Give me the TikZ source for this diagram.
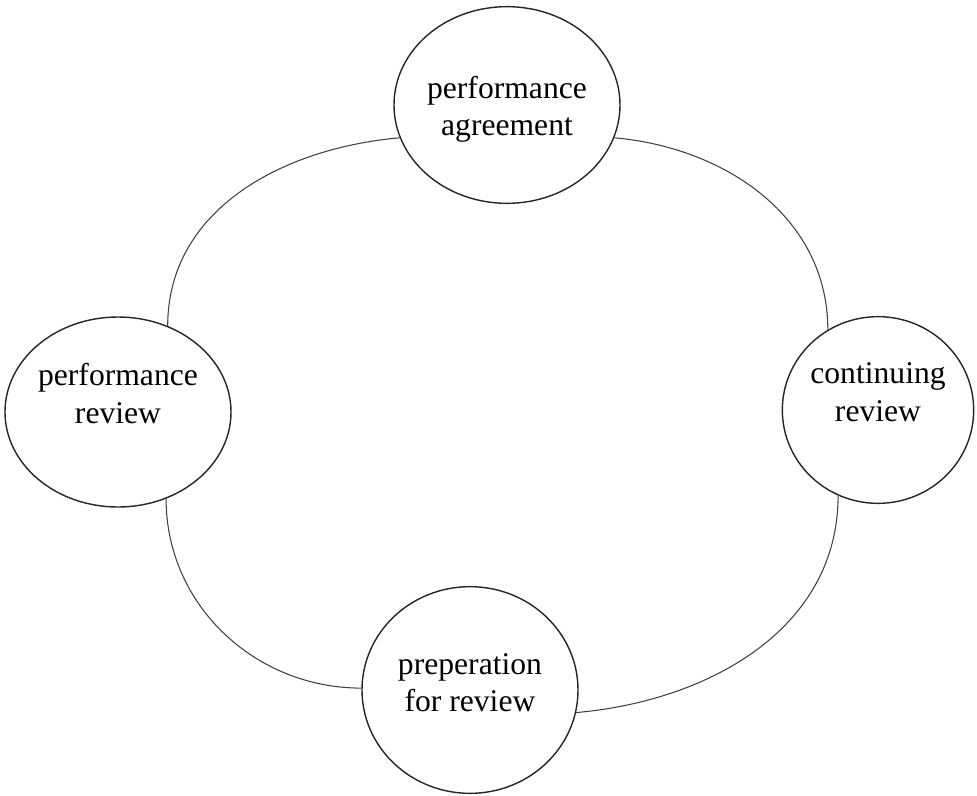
\documentclass[tikz,border=0pt]{standalone}
\usepackage{fontspec}
\setmainfont{Liberation Serif}
\usetikzlibrary{shapes.geometric}

% two centred lines, lifted a little inside the ellipse
\newcommand{\stagetext}[2]{\raisebox{#1}[\height][\depth]{\begin{tabular}{@{}c@{}}#2\end{tabular}}}

\begin{document}
\begin{tikzpicture}[
  x=0.3mm, y=-0.3mm,
  stage/.style={draw=black!85, line width=1.2pt, ellipse, inner sep=0pt,
                minimum width=64.8mm, minimum height=59mm, align=center,
                font=\fontsize{27}{32}\selectfont},
  link/.style={draw=black!75, line width=0.9pt}
]
  \useasboundingbox (0,0) rectangle (977,795);

  \node[stage] (agreement) at (507,105) {\stagetext{-4pt}{performance\\agreement}};
  \node[stage, minimum width=54mm, minimum height=56mm] (continuing) at (878,410) {\stagetext{13pt}{continuing\\review}};
  \node[stage, minimum height=62mm] (preparation) at (470,690) {\stagetext{4pt}{preperation\\for review}};
  \node[stage, minimum height=57mm] (perfreview) at (118,412) {\stagetext{13pt}{performance\\review}};

  % the cycle, round the outside
  \draw[link] (agreement.343) to[out=-5, in=90] (continuing.122);
  \draw[link] (continuing.245) to[out=-90, in=5] (preparation.348);
  \draw[link] (preparation.179) to[out=180, in=-90] (perfreview.299);
  \draw[link] (perfreview.60) to[out=90, in=185] (agreement.197);
\end{tikzpicture}
\end{document}
